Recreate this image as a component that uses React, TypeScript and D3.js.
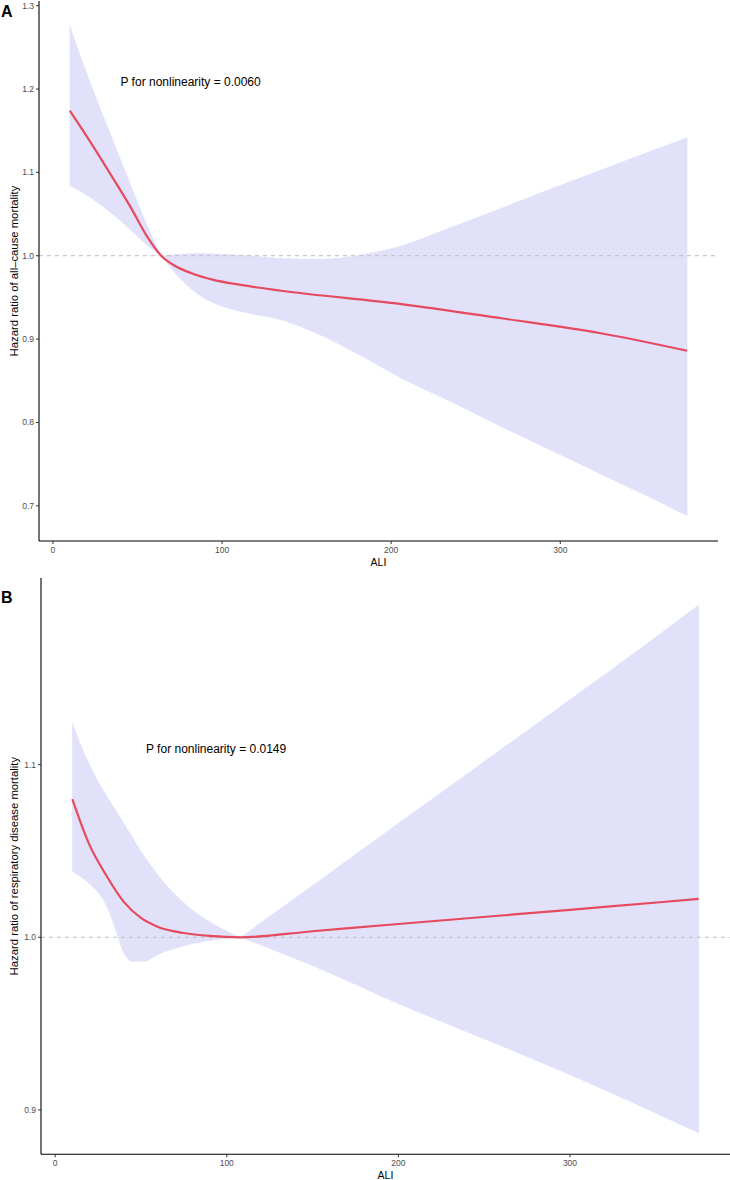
import React from "react";
import * as d3 from "d3";

// ---------- Panel A: all-cause mortality ----------
const aLineX = [10, 22, 34, 46, 56, 64, 72, 82, 95, 111, 135, 206, 265, 324, 375];
const aLineHR = [1.174, 1.137, 1.098, 1.058, 1.022, 1.0, 0.988, 0.979, 0.971, 0.965, 0.958, 0.942, 0.925, 0.907, 0.886];
const aBandX = [10, 22, 34, 46, 56, 64, 75, 87, 99, 111, 135, 158, 182, 206, 235, 265, 294, 324, 354, 375];
const aUpper = [1.276, 1.208, 1.146, 1.085, 1.035, 1.0, 1.002, 1.003, 1.002, 1.001, 0.997, 0.996, 1.001, 1.012, 1.034, 1.057, 1.08, 1.103, 1.126, 1.142];
const aLower = [1.084, 1.07, 1.052, 1.031, 1.012, 1.0, 0.973, 0.952, 0.94, 0.933, 0.923, 0.905, 0.88, 0.853, 0.825, 0.795, 0.767, 0.738, 0.709, 0.688];
const aYTicks = [0.7, 0.8, 0.9, 1.0, 1.1, 1.2, 1.3];

// ---------- Panel B: respiratory disease mortality ----------
const bLineX = [10, 20, 30, 40, 50, 60, 75, 90, 108, 150, 200, 260, 320, 375];
const bLineHR = [1.08, 1.0535, 1.0355, 1.0205, 1.0112, 1.006, 1.0025, 1.0008, 1.0, 1.0035, 1.0077, 1.0126, 1.0176, 1.0222];
const bBandX = [10, 20, 30, 35, 40, 45, 52, 60, 75, 90, 108, 150, 200, 260, 320, 375];
const bUpper = [1.124, 1.1, 1.082, 1.074, 1.066, 1.058, 1.047, 1.036, 1.02, 1.009, 1.0, 1.03, 1.066, 1.109, 1.152, 1.1925];
const bLower = [1.038, 1.031, 1.018, 1.005, 0.991, 0.986, 0.986, 0.99, 0.995, 0.998, 1.0, 0.9835, 0.9615, 0.937, 0.9116, 0.8866];
const bYTicks = [0.9, 1.0, 1.1];

const xTicks = [0, 100, 200, 300];

const FONT = "'Liberation Sans', Arial, Helvetica, sans-serif";
const LINE_COLOR = "#E64A5E";
const BAND_COLOR = "#E1E1FA";

type PanelProps = {
  letter: string;
  letterY: number;
  left: number;
  right: number;
  top: number;
  bottom: number;
  xDomain: [number, number];
  yDomain: [number, number];
  yTicks: number[];
  lineX: number[];
  lineHR: number[];
  bandX: number[];
  upper: number[];
  lower: number[];
  yTitle: string;
  pText: string;
  pX: number;
  pY: number;
};

type BandPt = { x: number; lo: number; hi: number };

function Panel(p: PanelProps) {
  const x = d3.scaleLinear().domain(p.xDomain).range([p.left, p.right]);
  const y = d3.scaleLinear().domain(p.yDomain).range([p.bottom, p.top]);
  const band: BandPt[] = p.bandX.map((v, i) => ({ x: v, lo: p.lower[i], hi: p.upper[i] }));
  // split the band at the reference point (where the interval pinches)
  const pinch = band.findIndex((d) => d.hi === d.lo);
  const pieces = pinch > 0 ? [band.slice(0, pinch + 1), band.slice(pinch)] : [band];
  const line = p.lineX.map((v, i) => ({ x: v, y: p.lineHR[i] }));
  const areaGen = d3
    .area<BandPt>()
    .x((d) => x(d.x))
    .y0((d) => y(d.lo))
    .y1((d) => y(d.hi))
    .curve(d3.curveMonotoneX);
  const lineGen = d3
    .line<{ x: number; y: number }>()
    .x((d) => x(d.x))
    .y((d) => y(d.y))
    .curve(d3.curveMonotoneX);
  const midY = (p.top + p.bottom) / 2;
  const midX = (p.left + p.right) / 2;
  return (
    <g>
      {pieces.map((pc, i) => (
        <path key={"b" + i} d={areaGen(pc) || ""} fill={BAND_COLOR} stroke={BAND_COLOR} strokeWidth={0.3} />
      ))}
      <line
        x1={p.left}
        x2={p.right}
        y1={y(1)}
        y2={y(1)}
        stroke="#BDBDBD"
        strokeWidth={1}
        strokeDasharray="4,4"
      />
      <path d={lineGen(line) || ""} fill="none" stroke={LINE_COLOR} strokeWidth={2.2} />
      {/* axes */}
      <line x1={p.left} x2={p.left} y1={p.top} y2={p.bottom} stroke="#000" strokeWidth={1.1} />
      <line x1={p.left} x2={p.right} y1={p.bottom} y2={p.bottom} stroke="#000" strokeWidth={1.1} />
      {p.yTicks.map((t) => (
        <g key={"y" + t}>
          <line x1={p.left - 3} x2={p.left} y1={y(t)} y2={y(t)} stroke="#333" strokeWidth={1} />
          <text
            x={p.left - 5}
            y={y(t)}
            dy="0.35em"
            textAnchor="end"
            fontSize={8.5}
            fill="#4D4D4D"
            fontFamily={FONT}
          >
            {d3.format(".1f")(t)}
          </text>
        </g>
      ))}
      {xTicks.map((t) => (
        <g key={"x" + t}>
          <line x1={x(t)} x2={x(t)} y1={p.bottom} y2={p.bottom + 3} stroke="#333" strokeWidth={1} />
          <text
            x={x(t)}
            y={p.bottom + 12}
            textAnchor="middle"
            fontSize={8.5}
            fill="#4D4D4D"
            fontFamily={FONT}
          >
            {t}
          </text>
        </g>
      ))}
      <text x={midX} y={p.bottom + 24.5} textAnchor="middle" fontSize={10.5} fill="#000" fontFamily={FONT}>
        ALI
      </text>
      <text
        transform={`translate(18,${midY}) rotate(-90)`}
        textAnchor="middle"
        fontSize={11.3}
        fill="#000"
        fontFamily={FONT}
      >
        {p.yTitle}
      </text>
      <text x={p.pX} y={p.pY} fontSize={12} fill="#000" fontFamily={FONT}>
        {p.pText}
      </text>
      <text x={1} y={p.letterY} fontSize={16} fontWeight="bold" fill="#000" fontFamily={FONT}>
        {p.letter}
      </text>
    </g>
  );
}

export default function App() {
  return (
    <svg
      width={730}
      height={1180}
      viewBox="0 0 730 1180"
      style={{ position: "absolute", left: 0, top: 0, background: "#fff" }}
    >
      <rect x={0} y={0} width={730} height={1180} fill="#fff" />
      <Panel
        letter="A"
        letterY={17}
        left={39}
        right={718}
        top={1}
        bottom={541}
        xDomain={[-8.25, 393.25]}
        yDomain={[0.6578, 1.3056]}
        yTicks={aYTicks}
        lineX={aLineX}
        lineHR={aLineHR}
        bandX={aBandX}
        upper={aUpper}
        lower={aLower}
        yTitle="Hazard ratio of all–cause mortality"
        pText="P for nonlinearity = 0.0060"
        pX={120.5}
        pY={86}
      />
      <Panel
        letter="B"
        letterY={603}
        left={41}
        right={730}
        top={578}
        bottom={1154.3}
        xDomain={[-8.25, 393.25]}
        yDomain={[0.8743, 1.2081]}
        yTicks={bYTicks}
        lineX={bLineX}
        lineHR={bLineHR}
        bandX={bBandX}
        upper={bUpper}
        lower={bLower}
        yTitle="Hazard ratio of respiratory disease mortality"
        pText="P for nonlinearity = 0.0149"
        pX={146}
        pY={753}
      />
    </svg>
  );
}
